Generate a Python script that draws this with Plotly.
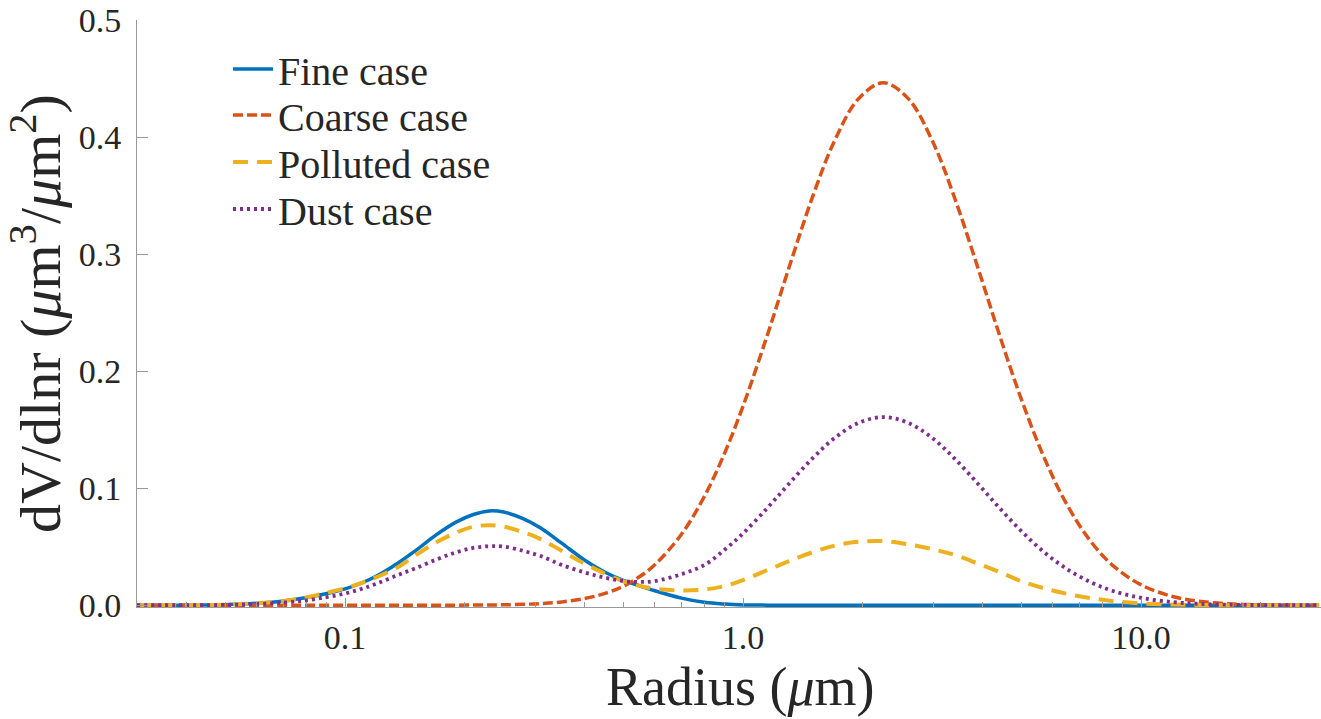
import math
import plotly.graph_objects as go

# Particle radius grid (µm) shared by all four size distributions
radius = [0.03, 0.04, 0.05, 0.06, 0.07, 0.08, 0.09, 0.1, 0.11, 0.12, 0.135, 0.15,
          0.17, 0.19, 0.21, 0.23, 0.25, 0.28, 0.31, 0.35, 0.4, 0.45, 0.5, 0.55,
          0.6, 0.7, 0.8, 0.9, 1.0, 1.15, 1.3, 1.5, 1.7, 1.95, 2.25, 2.6, 3.0,
          3.4, 3.9, 4.4, 5.0, 5.7, 6.5, 7.5, 8.5, 10, 12, 14, 17, 20, 28]

# dV/dlnr (µm^3/µm^2) for each case
fine_case = [0, 0.0001, 0.0005, 0.0017, 0.0037, 0.0066, 0.0100, 0.0140, 0.0190, 0.0250,
             0.0355, 0.0465, 0.0605, 0.0710, 0.0775, 0.0806, 0.0797, 0.074, 0.066, 0.053,
             0.0385, 0.0282, 0.0213, 0.0166, 0.0124, 0.0061, 0.0025, 0.001, 0.0003, 0.0001,
             0, 0, 0, 0, 0, 0, 0, 0, 0, 0, 0, 0, 0, 0, 0, 0, 0, 0, 0, 0, 0]

coarse_case = [0, 0, 0, 0, 0, 0, 0, 0, 0, 0, 0, 0.00001, 0.00003, 0.00006, 0.00012,
               0.00022, 0.00038, 0.00078, 0.00143, 0.00282, 0.00569, 0.0101, 0.0163,
               0.0245, 0.0346, 0.0606, 0.0932, 0.1305, 0.1703, 0.2306, 0.287, 0.3504,
               0.3973, 0.4327, 0.4464, 0.4328, 0.3955, 0.348, 0.2871, 0.2316, 0.1761,
               0.1265, 0.0864, 0.0538, 0.0339, 0.0174, 0.0075, 0.0034, 0.0011, 0.0004, 0]

polluted_case = [0, 0.0001, 0.0005, 0.0017, 0.0036, 0.0067, 0.0108, 0.0145, 0.0190, 0.0240,
                 0.032, 0.0425, 0.0540, 0.0620, 0.067, 0.0684, 0.0672, 0.0625, 0.0565, 0.0465,
                 0.0355, 0.027, 0.0205, 0.0165, 0.014, 0.0127, 0.0135, 0.0165, 0.0215, 0.03,
                 0.0375, 0.0455, 0.051, 0.0542, 0.0548, 0.052, 0.0478, 0.043, 0.0355, 0.0285,
                 0.0205, 0.0145, 0.0098, 0.006, 0.0035, 0.0016, 0.0006, 0.0002, 0.00005, 0, 0]

dust_case = [0, 0.0001, 0.0003, 0.0011, 0.0023, 0.0042, 0.0070, 0.0100, 0.0140, 0.0185,
             0.0255, 0.0315, 0.0392, 0.0452, 0.049, 0.0504, 0.0502, 0.0465, 0.042, 0.0345,
             0.028, 0.0235, 0.0208, 0.0199, 0.0207, 0.0265, 0.0345, 0.0476, 0.0615, 0.083,
             0.1033, 0.1261, 0.143, 0.1558, 0.1607, 0.1558, 0.1424, 0.1253, 0.1034, 0.0834,
             0.0634, 0.0455, 0.0311, 0.0194, 0.0122, 0.0063, 0.0027, 0.0012, 0.0004, 0.00015, 0]

series = [
    ("Fine case", fine_case, "#0072BD", "solid", 3.5),
    ("Coarse case", coarse_case, "#D95319", "10px,4px", 3.5),
    ("Polluted case", polluted_case, "#EDB120", "15px,9px", 4),
    ("Dust case", dust_case, "#7E2F8E", "3px,4px", 3.8),
]

y_ticks = [0.0, 0.1, 0.2, 0.3, 0.4, 0.5]
x_major = [0.1, 1.0, 10.0]
x_major_text = ["0.1", "1.0", "10.0"]
x_minor = [0.03, 0.04, 0.05, 0.06, 0.07, 0.08, 0.09,
           0.2, 0.3, 0.4, 0.5, 0.6, 0.7, 0.8, 0.9,
           2, 3, 4, 5, 6, 7, 8, 9, 20]

FONT = "Liberation Serif"
TEXT = "#262626"
AXIS = "#9a9a9a"

W, H = 1321, 719
left, right, top, bottom = 137, 0, 20, 112
decade_px = 398.0
x0 = math.log10(0.03)
x1 = x0 + (W - left - right) / decade_px
plot_w = W - left - right
plot_h = H - top - bottom
plot_bottom = H - bottom


def px_x(px):
    return (px - left) / plot_w


def px_y(py):
    return (plot_bottom - py) / plot_h


# one legend box per entry so the rows sit at fixed heights
legend_rows = [69, 115, 162, 209]
legend_ids = ["legend", "legend2", "legend3", "legend4"]

fig = go.Figure()
for (name, vals, color, dash, width), lid in zip(series, legend_ids):
    fig.add_trace(go.Scatter(
        x=radius, y=vals, name=name, mode="lines", legend=lid,
        line=dict(color=color, dash=dash, width=width, shape="spline", smoothing=1.0),
    ))

legend_layout = {}
for lid, row in zip(legend_ids, legend_rows):
    legend_layout[lid] = dict(
        x=px_x(228), y=px_y(row), xanchor="left", yanchor="middle",
        bgcolor="rgba(255,255,255,0)", borderwidth=0,
        font=dict(family=FONT, size=40, color=TEXT),
        itemwidth=40,
    )

fig.update_layout(
    width=W, height=H,
    margin=dict(l=left, r=right, t=top, b=bottom),
    paper_bgcolor="white", plot_bgcolor="white",
    font=dict(family=FONT, color=TEXT, size=34),
    showlegend=True,
    xaxis=dict(
        type="log", range=[x0, x1],
        showline=True, linecolor=AXIS, linewidth=1,
        ticks="inside", ticklen=9, tickwidth=1, tickcolor=AXIS,
        tickmode="array", tickvals=x_major, ticktext=x_major_text,
        tickfont=dict(family=FONT, size=34, color=TEXT),
        minor=dict(ticks="inside", ticklen=5, tickcolor=AXIS, tickwidth=1,
                   tickmode="array", tickvals=x_minor, showgrid=False),
        showgrid=False, zeroline=False,
    ),
    yaxis=dict(
        range=[-0.0015, 0.5],
        showline=True, linecolor=AXIS, linewidth=1,
        ticks="inside", ticklen=11, tickwidth=1, tickcolor=AXIS,
        tickmode="array", tickvals=y_ticks, ticktext=[f"{v:.1f}" for v in y_ticks],
        tickfont=dict(family=FONT, size=34, color=TEXT),
        ticklabelstandoff=8,
        showgrid=False, zeroline=False,
        title=dict(text="dV/dlnr (<i>μ</i>m<sup>3</sup>/<i>μ</i>m<sup>2</sup>)",
                   font=dict(family=FONT, size=58, color=TEXT), standoff=6),
    ),
    annotations=[dict(
        text="Radius (<i>μ</i>m)", showarrow=False,
        xref="paper", yref="paper", x=px_x(740), y=px_y(687),
        xanchor="center", yanchor="middle",
        font=dict(family=FONT, size=54, color=TEXT),
    )],
    **legend_layout,
)

fig.write_html("out.html")
